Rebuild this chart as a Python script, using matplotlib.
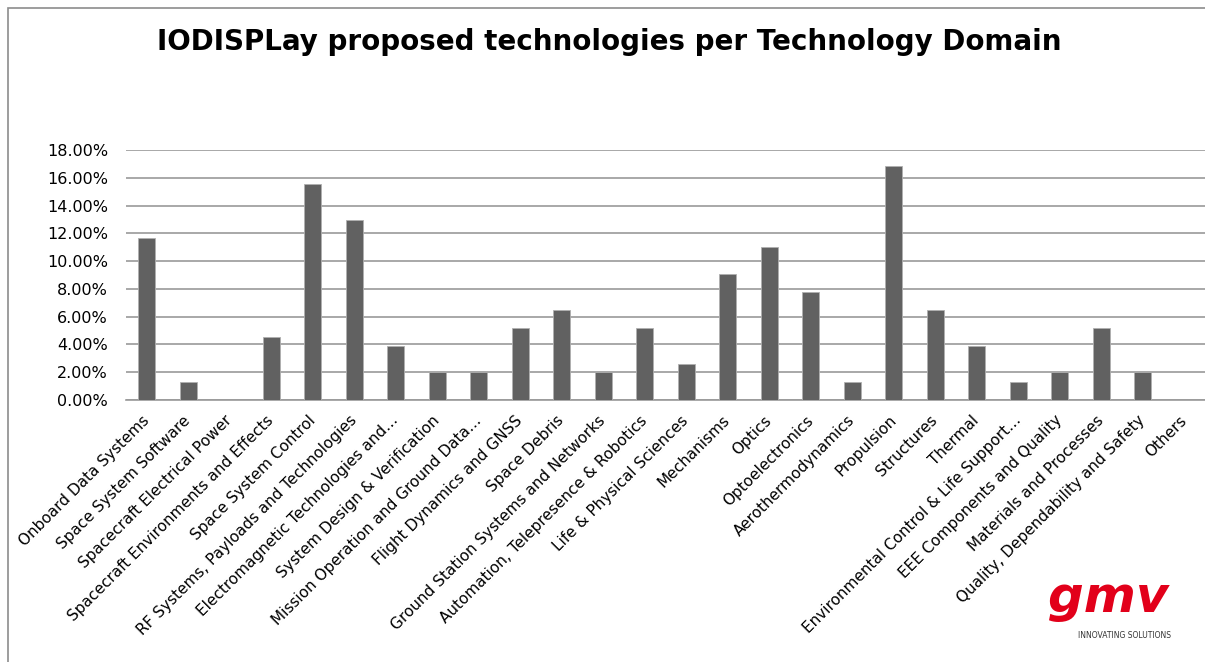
import matplotlib.pyplot as plt
from matplotlib.patches import Rectangle
from matplotlib.ticker import FuncFormatter

# technology domains and share of proposed technologies
domains = [
    'Onboard Data Systems', 'Space System Software', 'Spacecraft Electrical Power',
    'Spacecraft Environments and Effects', 'Space System Control',
    'RF Systems, Payloads and Technologies', 'Electromagnetic Technologies and…',
    'System Design & Verification', 'Mission Operation and Ground Data…',
    'Flight Dynamics and GNSS', 'Space Debris', 'Ground Station Systems and Networks',
    'Automation, Telepresence & Robotics', 'Life & Physical Sciences', 'Mechanisms',
    'Optics', 'Optoelectronics', 'Aerothermodynamics', 'Propulsion', 'Structures',
    'Thermal', 'Environmental Control & Life Support…', 'EEE Components and Quality',
    'Materials and Processes', 'Quality, Dependability and Safety', 'Others',
]
shares = [11.69, 1.30, 0.0, 4.55, 15.58, 12.99, 3.90, 2.00, 2.00, 5.19, 6.49, 2.00,
          5.19, 2.60, 9.09, 11.04, 7.79, 1.30, 16.88, 6.49, 3.90, 1.30, 2.00, 5.19,
          2.00, 0.0]
yticks = [0, 2, 4, 6, 8, 10, 12, 14, 16, 18]

fig = plt.figure(figsize=(12.05, 6.62), dpi=100)

# chart frame (excel style)
fig.patches.append(Rectangle((8 / 1205, -0.1), 1.2, 1 - 8 / 662 + 0.1,
                             transform=fig.transFigure, fill=False,
                             edgecolor='#8c8c8c', linewidth=1.2))

ax = fig.add_axes([126 / 1205, 1 - 400 / 662, 1079 / 1205, 250 / 662])
x = range(len(domains))
ax.bar(x, shares, width=0.4, color='#616161', edgecolor='#b0b0b0', linewidth=0.6,
       zorder=3)

ax.set_xlim(-0.5, len(domains) - 0.5)
ax.set_ylim(0, 18)
ax.set_yticks(yticks)
ax.yaxis.set_major_formatter(FuncFormatter(lambda v, p: f'{v:.2f}%'))
ax.yaxis.grid(True, color='#9a9a9a', linewidth=1.2, zorder=0)
for s in ['top', 'right', 'left']:
    ax.spines[s].set_visible(False)
ax.spines['bottom'].set_color('#9a9a9a')
ax.spines['bottom'].set_linewidth(1.2)
ax.tick_params(axis='both', length=0, labelsize=11.5)
ax.tick_params(axis='y', pad=13)
ax.set_xticks(list(x))
ax.set_xticklabels(domains, rotation=45, ha='right', va='center',
                   rotation_mode='anchor', fontsize=11)
ax.tick_params(axis='x', pad=13)

fig.text(0.506, 1 - 42 / 662, 'IODISPLay proposed technologies per Technology Domain',
         ha='center', va='center', fontsize=20, fontweight='bold')

# gmv logo as text
fig.text(1108 / 1205, 1 - 612 / 662, 'gmv', ha='center', va='baseline',
         fontsize=36, fontweight='bold', style='italic', color='#e2001a')
fig.text(1124 / 1205, 1 - 636 / 662, 'INNOVATING SOLUTIONS', ha='center',
         va='center', fontsize=5.5, color='#333333')

fig.savefig('out.png', dpi=100)
